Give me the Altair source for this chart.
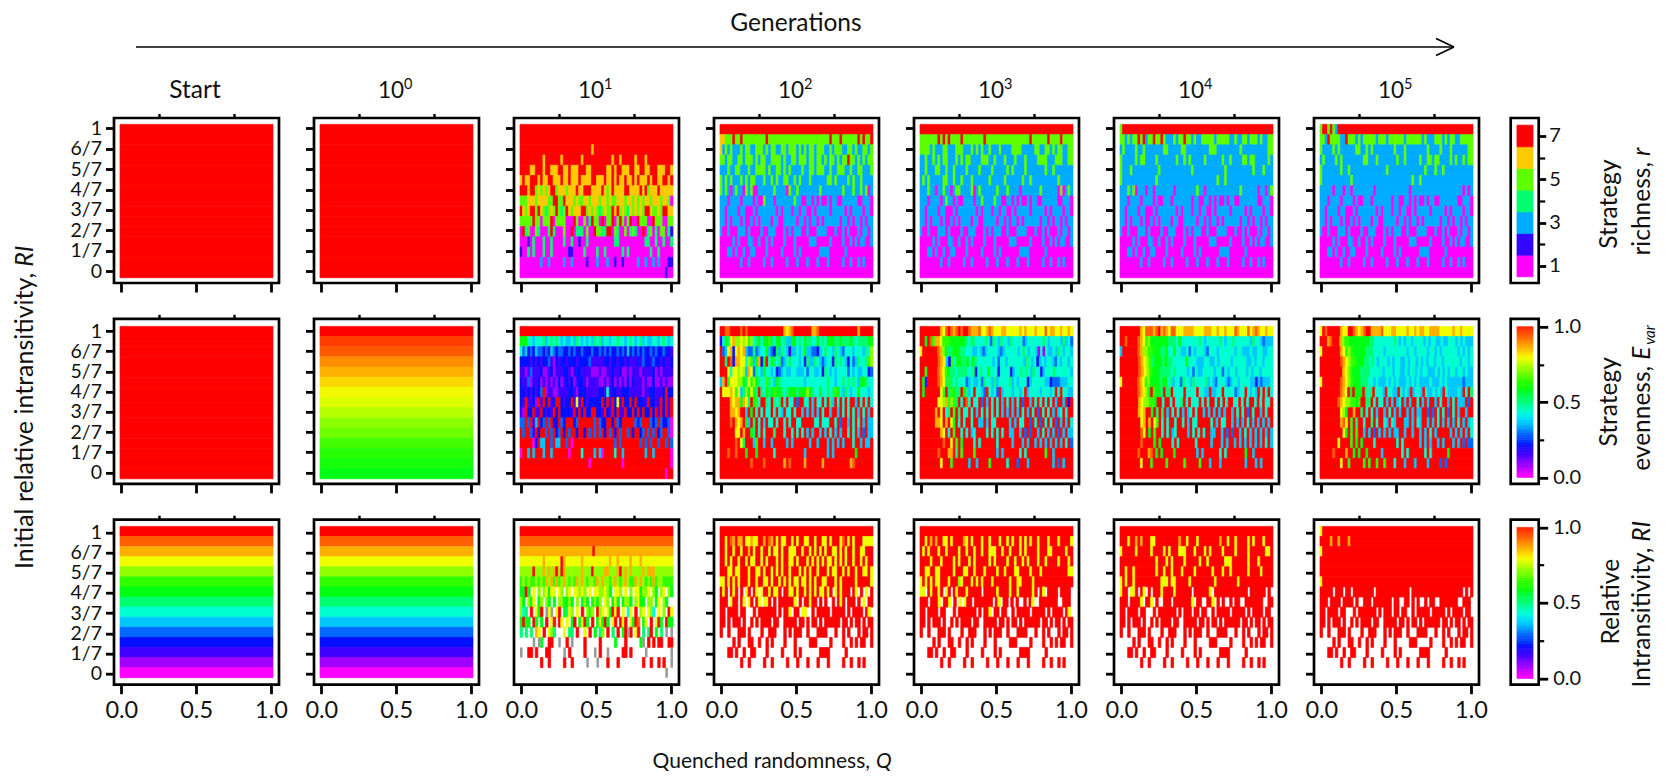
import altair as alt
import pandas as pd

FONT = "Lato"
LEVEL_CHARS = "0123456789abcde"
LEVEL_COLORS = ["#ff00ff", "#a000ff", "#4000ff", "#0010ff", "#0068ff", "#00c8ff", "#00ffd0", "#00ff70",
                "#00ff10", "#30ff00", "#90ff00", "#f0ff00", "#ffaf00", "#ff5f00", "#ff0000"]
GENERATIONS = ["Start", "0", "1", "2", "3", "4", "5"]
RI_TICKS = ["0", "1/7", "2/7", "3/7", "4/7", "5/7", "6/7", "1"]

# stripe masks of the low rows, shared by the late generations (x = intransitive cell)
M8 = "xxxxx.xxx.xx.xxxxxxxx.xxxxxxxxxxxxx.xxxxxxxxxxxxxxxxxxxx.x.x"
M7 = "xxx.xxxx.xxxx.x..xxx.xxxxxxx.xx..xx.x.x..x.xx..xxxxxxx..xxx."
M6 = "xx.xxxx.xx...x.xxxxxxx.x.xxx.xx.xx..x.xxxxx.xxxxx.x.xxxx.xx."
M5 = "xx.x.xxx.x..x.x.xxxx.xx..xxxxx.xx.x.xx.x.xxxxxx.xx.x.xx.x.xx"
M4 = "x..x...xxx.x....x..xxx...x.x.xxx..x...xxxx...x..x.x...x.xx.x"
M3 = ".....x.x...xx..x..x.x....x...x.....xxx.....x....x..x.x.xx..x"
M2 = "...xx.x..x..xx....x.....x....x.x.......xxxx......x.........."
M1 = "........x..x.....x..x.....x...x...x...x...x.....x..x..x.x..."


def rich(m):
    return m.replace("x", "3").replace(".", "1")


def red(m):
    return m.replace("x", "e")


LOW_R = [rich(M8), rich(M7), rich(M6), rich(M5), rich(M4), rich(M3), rich(M2), rich(M1), "1"]
LOW_RI = [red(M8), red(M7), red(M6), red(M5), red(M4), red(M3), red(M2), red(M1), "."]

R_START = ["7"] * 15
R_G0 = ["7"] * 15
R_G1 = [
    "7", "7",
    "77777777777777777777777777777677777777777777777777777777777777",
    "777777777677777767777777677777777777677677777677767777777777",
    "777766777677666776676667776677777766767766677667766777666776",
    "676677767667766676676667666677666766767667667676667677667767",
    "777677565656775666566676677766667656766667766667675666766666",
    "555666566665577557666565566566656656556665665656566566656651",
    "765677576545657545765666775656545655767565465656577655657766",
    "555557551555715555111751151475517155715751571175551175551155",
    "174511541114741115117144415117554477154115145411714514155142",
    "111214111411411114114112114111111111144111111111144114114114",
    "211414111411411111122111141111411411111141411111111411411111",
    "111111113113111113113111112111311131121121111131131131311122",
    "111111111111111111111111111111111111111111111111111111111211",
]
R_G2 = [
    "7",
    "665557557555555555755555555555555555555555575557555555757557",
    "635353335355335553535533553555353535535553353555335535335535",
    "553553355355535355335555353355355535535535355353557553535355",
    "333533553335335555353355353533335335535553353355533533553335",
    "535353335353553335335353355335353335333333553533335353353333",
    "535313533153511333333533331533533333333533333333533353353513",
    "333133331333313115333133333335331133131311313311333333113331",
] + LOW_R[2:]
R_G3 = [
    "7",
    "555555575757555575555555575555555555555555575555557555575555",
    "555535333553335553335353533533353333555533333553355353553355",
    "335335353553335353553333555335333533353335333355553335553355",
    "335333553353353333533335333353333353533335333333353353333333",
    "353533333553353353335333333533333533333353353333333333533333",
    "333533133533135533335135333333533353333133333335333333151353",
    "333133331353313113333133533335331133131311313311333333113331",
] + LOW_R[2:]
R_G4 = [
    "577777777777777777777777777777777777777777777777777777777777",
    "553535575735575575333535575535335555535555533533553555353355",
    "353333533533333335533333553333333335553333333335333333333355",
    "533333535533335333333353353533333533333353353333553553333353",
    "533353333333333533333333333353333333333335333333333353335333",
    "533333333333335333333333333333333333335335333333333333333333",
    "333535133313313333333133333333533133333333333335333333133135",
] + LOW_R[1:]
R_G5 = [
    "577575377777777777777777777777777777777777777777777777777777",
    "553755553375553535555535553555555355555535333555353553355555",
    "533335353333335533535333333335333533333333533335333533333355",
    "353333535333333335533353333333533533333533553553333535335355",
    "533333335335333333333333335333333333333335333533533333333333",
    "533333333333533333333333333333333333533533333333333333333333",
] + LOW_R

E_START = ["e"] * 15
E_G0 = [1.0, 0.97, 0.935, 0.89, 0.855, 0.82, 0.79, 0.77, 0.74, 0.71, 0.68, 0.65, 0.62, 0.59, 0.57]
E_G1 = [
    "e",
    "888665666756767656556576565657675665667665676567565566567656",
    "645343544343543443343433433343343434334343534343433434334332",
    "333323232334213233233323333422222332332332322232433243323223",
    "221242223112312223321233222211121122322311212221222231212222",
    "322412231212121312323123321222211212312121313222121131121211",
    "332323234e12211222233213332222233262332233322222122332223e33",
    "32e2231e2e3e23ee3233e2b2e3233333e3e2e3b2e33e3e3332e3322e3e2e",
    "21e33e22e3232e3e33332e3e3e33ee332e32e3e22e33e3e3e33e3e2e3e2e",
    "44e4e25e34e4e33e43eee34eeeeee4e433ee3e43eeeee434eee434e43340",
    "e4ee42e3ee4e4e34e3e4ee3ee3e4e4e4e3e4e3e4ee4e3ee34e4e4e34ee40",
    "eeeee03e55ee4e55ee4e0eeeeeeeeeeeeeeee4e4eeeeeee4e4e4ee4ee4e4",
    "0ee5e5eee5ee5eeeeee0eeee6eeee5e50eeee6ee5eeeeeeee5ee5eeeeee0",
    "eeeeeeeeeeeeeeeeeeeeeeeeeee0eeeeeeeeeeee0eeeeeeeeeeeeeeeeee0",
    "eeeeeeeeeeeeeeeeeeeeeeeeeeeeeeeeeeeeeeeeeeeeeeeeeeeeeeeee0ee",
]
E_G2 = [
    "eeddeeeededeeeeeeeeeeeeeecbcdeeeeeeeccdeeeeeeeeeeeeeeeceeeee",
    "2687bcaabab9a67868897688675588676877668676888778777876777788",
    "e45bc3bcbc5447456685438576525565685544356766576546665666576a",
    "ee7ed3ccbb6a958c38e6876745676665637557654566376765364576679a",
    "eeeb6bbaba5cb47658665634565566555646655637656566664656556634",
    "5ce9bbbaa87b9a8766976587666666666566666666766566767676588766",
    "ebbbcb9b57a8b87e768789887678887888a8766866767986576566866656",
    "eeeecbcc8cb7e896ee76e767e6e66e4ee66e5e66e6e75e6e6e6ee5e6e6e6",
    "eeeeccbcee5e8e6e6e66e6e65e66e6ee5e5e5e5e6ee5ee5e6e6e6e5e6e5e",
    "eeeedecbce85e7e6e5e66e6ee6e6ee66eeeee66e666ee6e4ee5e6e6e5e55",
    "eeeeeebbecee87e6e6eee7eee6ee6e6e6e5e5ee5e5e6e5e5ee6e6e5e4e55",
    "eeeeeedeb7eee59ee5ee5eeeee5e5eeeeee5ee5eee5e5e5e5eee6ee5e55e",
    "eeedeedeee8eee8eeeeee6eeeeeeeeeee5eeeeeeee5e5eeeeeeee8eeeeee",
    "eeeeeeeeeeeedeeeedeeeeeeecedeeeeeceeeeeeceeeeeeeeeecdeeeeeee",
    "e",
]
E_G3 = [
    "eeeeeeeecbdedcdedeedcccdbbcdcbbbccbbbbbcbcbbbcbbbdbccbbcbbcb",
    "ee8ed9ccb9998888887677666676476576657666645666666765666657564",
    "beeeeeedca877888776665565456666545666665676566516165565765665",
    "eeeeeeedcb5396887786876666665646656666665765635656654656656",
    "ee9eeeedcb987767777667367668666366663566767657663566676666665",
    "e82eeeedcb79767666456556476657566667565666356666655344455566",
    "e8eeeeeeb9e79877e8756e6654e6564e566656656e56666566656e6e6655",
    "eeeeeeebbac9a97e6ed6e66e4e5e6e6e5e6e5e6e4ee5e6e6e6e6e5ee5e3e",
    "eeeeeecebe67e9e7e66e6e5e6e6e6e6e5e5e5e5e6e5e6e4e6e6e5e56e6ee",
    "eeeeeeccbeceb8e6e6ee6ee55e5e66eeeee5e5e66ee4e6e4e6e6e4e5e5e6",
    "eeeeeeeecbe6e9ee6e6e56eeee6e6e6e6ee55ee5e4e4ee5e6e5e5e4e5e55",
    "eeeeeeeeedeebe9e8eeee6e6eeeeee6eeeee5eee5e5ee5e5e5e5e5e5e6e4",
    "eeeeeeedeeecce7e9eeee9eeeeeeee5e5eeeeee6e6eeeeeee9ee5eeeeeee",
    "eeeeeeeebeee9eeeeee5ee5eeee9eeeeee6eee4eee5eeeeeeeee5e4e5eee",
    "e",
]
E_G4 = [
    "eeeeeeeecbdddcdecdcbddbbbccccbbbbcccbbcbbcbbbdcbbbdbcdcbbcbb",
    "eedeeeedcb9a888888877768666666676566666765667666666576654555",
    "5eeeeeedcaa9988877866866556465666546665666666566555655665566",
    "eeeeeeedcba97888787766666866655566556566665666665565665666",
    "eeeeeeedcba9888777767666656465566665664656656665656656666",
    "beeeeeedcb9a8888788675664766576666756546665456656666553545556",
    "eeeeeeedcba8e9887e77e6666e6666e6655e5566e66664566e6565e6e6e6",
    "eeeeeeecbaa998ee6ee6e667e6e666e6e6ee6e6e6ee66e6e6ee6e6e66e",
    "eeeeeeecbcee8e7e7e5e6e6e5e56e6ee5e5e5e5e5ee5e6e6e4e6ee5e6ee",
    "eeeeeeeebceceb9e6e6ee6ee6e5e66eeeee6e5e66ee5e5e5e6e5e5e5e5e",
    "eeeeeeeedbe8e9ee6e6e56eeee5e6e6e6ee55ee5e4e4ee5e6e5e5e5e5e5",
    "eeeeeeeedeeee8e8eeee6e6eeeeee6eeeee5eee5e5ee5e5e5e5e5e5e6e5",
    "eeeeeeedeeecde8e8eeee8eeeeeeee5e5eeeeee6e6eeeeeee8ee5eeeeeee",
    "eeeeeeeebeee9eeeee9eeeeee9eeeee9eee5eee5eeeeeeeee5eee5e5eeee",
    "e",
]
E_G5 = [
    "bedeeeeecbbeedcbcdeeccccdbbbccbbbbcbbcbccbbccccbbbbbcbbcbbbb",
    "eeecdeeeca9988888888776666666676565665666656566556556665656555",
    "beeeeeeecb9a988888777666656666666656656666566565666666565656",
    "eeeeeeeedcba99888776765666565665565665656566566566666656656",
    "eeeeeeeeecba9888777766666566656655656656566555656565665665655",
    "beeeeeeedcba988877766565556565655565656555565556565555554555",
    "eeeeeeeedcbe8e888e767e6665e6655e6565e5665e6556565e6555565e6e7",
    "eeeeeeedcbaa9989ee77e6e66e5e5e56e5e5ee6e5e5ee5e6ee5e6e555e4e",
    "eeeeeeeeba8eecee7e6e6e5ee5e6e5e5ee5e5e55ee4e4e6e6e4e6e5ee5ee",
    "eeeeeeeecdbe9e7ee6ee7e6ee65e65eee55e5e65ee5e5e6e5e5e5e6e5e56",
    "eeeeeeeeeb8e9e9ee5e5e4e5e5e5e55ee5ee5ee5e5e6e5eeeee5e5e5e5e6",
    "eeeeeeebeeee9e8e8eeee6eeeeeeee6e6eeeeee5e5e5ee5e5eee5e5e4e44",
    "eeeeedeeeecee8e8ee8eeeee5eeeeeee6e6eeeeee6e6eeeeee8eeeeeeeee",
    "eeeeeeeebee9eeeee9e9ee9ee9eee6eee5eee5eeee5eeee4e4eeeeeeeeee",
    "e",
]

I_START = list("edcba9876543210")
I_G0 = list("edcba9876543210")
I_G1 = [
    "e", "d",
    "ccccccccccccccccccccccccccccceccccccccccccccccccccccccccccccc",
    "bbbbbbbbbcbbbbbbecbbbbbbcbbbbbbbbbbcbbcbbbbcbbbcbbbbbbbbbbbb",
    "aaaaaeaaacacaceaecaaaaaacaaaeaaaaccaaaceacacaaaacacccaaaaaaa",
    "9a9a99a9a9cac9c9aca9a9caca9aa9cacaa9aca9aca99caca9a9c9aa9999",
    "88e8.b.a.ab8bb.ba.ab.bbaba.b.bbaaba8.bba.b.a.bb8aab.a8.ab.a8",
    "a8.a8b.8a.a8.8.aa88a8.a.8a8.8a8a.ba.8b8.8aa8.ab88.aa.8b.a8..",
    "a67.e.b8e.gbg.be.87ba.b.e.a9a.eab.b8ebe.b.6b.e.ab.ba6.b.a.eb",
    "8e88.e8.8.e.be.eb.b.8e.8be8.e.8b8e8.be.ebe.b8ed.8b.e.be8.e88",
    "7.7.7.cb.e.ba7...b.77.e..b.e.8.7a.e.7.e.8ege.be.7.7e.8.7.g.g",
    ".....g.g8..ee..g..e.g....e.....e.....8...e.....8g.e.e.ee..ee",
    "g..ee.e...ee.....g.e.....e...g.e..g.....ee.e.....g.........g",
    "........e..e.....e..e.....g...g...e...e.........e..e..e.e..g",
    ".........................................................g..",
]
I_G2 = [
    "e",
    "eebedceccebbcbbeecedcebebbeebebeebbeebeebbebeeebdebebeeebbbb",
    "eebeebeebeecebeebeebebbebeebbbeebeebebebebeebbebebeebeebbeee",
    "eebebeebeebebbeebebeeebebeebbebeeebebebebebbebebebeebeebebee",
    "eeebbebbeeebeebbebeebebebeebeeebebebeebeeebebbeebebeebeebbeb",
    "bbebebebeeebeebeebbebeebebebebbebbebebeebbeeebebeeeeebeeeeeb",
    "ebe.ebe.e.be.eb.beebebbe.eebbebeebebebebbebe.bebeee.eb.e.b.e",
    "eee.bee.eb.be.eb.bbe.e.eeeeeeb.e.eebee.e.e..e.ebe.eee.e.b.ee",
    "ee.eeee.ee...e.eeeeeee.e.eeb.ee.bb..e.eeeee.eeeee.e.eeee.eb.",
] + LOW_RI[3:]
I_G3 = [
    "e",
    "eebececeebbebeeeecbebeeebeebeeebeebebeebebebeebeeebeeebeeeeb",
    "ebebeeebeebeeeebeebeebeebeebbbeebeebeeebebeeeebeeebbeeeeebee",
    "eeeebeeebeeeebebeeebebeeeeebebeeeebeebeebebeeebeebeeeebeeebe",
    "eebbeebbeeeeebeeebbeebeeebeeeebeebeeebbeeeebeeebeeeeeeeeeebb",
    "bebebebbeeebeeeabeeebebebeeebeeeeeebeebbeeeebeeeeeeeeeeeeeee",
    "bb.ebeebe.be.ebeeebeeeee.eeeeebeeeebeebeeeeebe.eb.eeee.eeee.",
    "eee.eeeb.eeb.e.b.bee.eeeeeee.eb.ee.e.e..e.eb..eeeeeee..eee.",
    "ee.eeee.ee...e.eeeeeee.e.eeb.ee.ee..e.eeeee.eeeee.e.eeee.eb.",
] + LOW_RI[3:]
I_G4 = [
    "e",
    "eeebeececeeebbeeeeeeeeeceebeeebeeeeeeeeceebeebeeeebebeeebeee",
    "beeeeebeeeeebeeeebebeeebbbeeebeeebebeeeebeeeebeeeebeeeeeebbe",
    "eeeeeeeeeeeeeebeeebebeeeebeeeeebeebeeeeeebbbeeeeeebeeebeeeee",
    "eebeebeeeeeeeebeebeebeeebeeeebeeeeeebeeebeebeeeeeebeeeebeeee",
    "bebeebeeeeeeeeeebbbebbeeeeebeeeeeeeeebeeeeeeeebeeeeeeeeeeeee",
    "bee.bbe.eb.e.eeebeeeebeeeeee.eeeeeeb.eeeeeeeeeeeee.eeeeee.e.",
    "eee.eeeeb.eeb.e..eee.eeeeeeeb.ee..eeb.e.e..e.ee..eeeeeee..ee",
] + LOW_RI[2:]
I_G5 = [
    "beeeeeeeeeeeeeeeeeeeeeeeeeeeeeeeeeeeeeeeeeeeeeeeeeeeeeeeeeee",
    "eeeeceeceeeceeeeeeeeeeeeeeeeeeeeeeeeeeeeeeeeeeeeeeeeeeeeeeee",
    "beeeeeeeeeeeeeeeeeeeeeeeeeeeeeeeeeeeeeeeeeeeeeeeeeeeeeeeeeee",
    "e", "e",
    "beeeeeeeeeeeeeeeeeeeeeeeeeeeeeeeeeeeeeeeeeeeeeeeeeeeeeeeeeee",
] + LOW_RI

RICHNESS = [R_START, R_G0, R_G1, R_G2, R_G3, R_G4, R_G5]
EVENNESS = [E_START, E_G0, E_G1, E_G2, E_G3, E_G4, E_G5]
INTRANS = [I_START, I_G0, I_G1, I_G2, I_G3, I_G4, I_G5]
GRID = [RICHNESS, EVENNESS, INTRANS]

R_BAR = [1, 2, 3, 4, 5, 6, 7]
BAR_STEPS = list(range(0, 61))

# layout (pixels)
PW, PH = 165, 165
COL_GAP, ROW_GAP = 35, 35.85
BAR_W = 24.7
BAR_SHIFT = -3.3
X_DOM = [-0.0488, 1.0535]
X_IMG = (-0.0087, 1.0134)
Y_DOMS = [[-0.084, 1.0729], [-0.0806, 1.0859], [-0.0779, 1.0899]]
Y_IMGS = [(-0.047, 1.028), (-0.0446, 1.0325), (-0.0283, 1.0425)]
BAR_DOMS = [[0.215, 7.83], [-0.0428, 1.052], [-0.0417, 1.051]]

LEVEL_VALUES = [i / 14 for i in range(15)]
CSCALE = alt.Scale(domain=LEVEL_VALUES, range=LEVEL_COLORS)
XTICK_FS, YTICK_FS, BAR_FS, TEXT_FS = 23.5, 19.5, 20, 24.5
GAP = 6


def cell_value(ch, is_rich):
    return (int(ch) - 1) / 6 if is_rich else LEVEL_CHARS.index(ch) / 14


def cells(rows, y_img, is_rich):
    out, grey = [], []
    dy = (y_img[1] - y_img[0]) / 15
    dx = X_IMG[1] - X_IMG[0]
    for i, row in enumerate(rows):
        top = y_img[1] - i * dy
        bot = top - dy
        if isinstance(row, float):
            out.append(dict(x=X_IMG[0], x2=X_IMG[1], y=bot, y2=top, v=row))
            continue
        n, j = len(row), 0
        while j < n:
            k = j
            while k < n and row[k] == row[j]:
                k += 1
            rec = dict(x=X_IMG[0] + dx * j / n, x2=X_IMG[0] + dx * k / n, y=bot, y2=top)
            if row[j] == "g":
                grey.append(rec)
            elif row[j] != ".":
                rec["v"] = cell_value(row[j], is_rich)
                out.append(rec)
            j = k
    return pd.DataFrame(out), pd.DataFrame(grey)


def label(text, x, y, size=TEXT_FS, align="center", angle=0, style="normal"):
    return alt.Chart(pd.DataFrame({"t": [text]})).mark_text(
        font=FONT, fontSize=size, align=align, baseline="alphabetic", angle=angle, fontStyle=style, color="#111"
    ).encode(text="t:N", x=alt.value(x), y=alt.value(y))


def line(x1, x2, y1, y2):
    return alt.Chart(pd.DataFrame({"a": [0]})).mark_rule(color="black", strokeWidth=1.6).encode(
        x=alt.value(x1), x2=alt.value(x2), y=alt.value(y1), y2=alt.value(y2))


def panel(row, col):
    df, grey = cells(GRID[row][col], Y_IMGS[row], row == 0)
    xs = alt.Scale(domain=X_DOM, nice=False, zero=False)
    ys = alt.Scale(domain=Y_DOMS[row], nice=False, zero=False)
    x_major = alt.Axis(values=[0, 0.5, 1], tickSize=9, tickWidth=2.8, tickColor="black", labels=row == 2,
                       format=".1f", title=None, domain=False, grid=False, labelFont=FONT, labelFontSize=XTICK_FS,
                       labelColor="#111", labelPadding=5, labelFlush=False)
    x_minor = alt.Axis(values=[0.25, 0.75], tickSize=4.5, tickWidth=2.4, tickColor="black", labels=False,
                       title=None, domain=False, grid=False)
    expr = "[" + ",".join(f"'{t}'" for t in RI_TICKS) + "][round(datum.value*7)]"
    y_axis = alt.Axis(values=[i / 7 for i in range(8)], tickSize=8.5, tickWidth=2.8, tickColor="black",
                      labels=col == 0, labelExpr=expr, title=None, domain=False, grid=False, labelFont=FONT,
                      labelFontSize=YTICK_FS, labelColor="#111", labelPadding=4, labelOverlap=False, labelBound=False)
    base = alt.Chart(df).mark_rect(strokeWidth=0.7).encode(
        x=alt.X("x:Q", scale=xs, axis=x_major), x2="x2:Q",
        y=alt.Y("y:Q", scale=ys, axis=y_axis), y2="y2:Q",
        fill=alt.Fill("v:Q", scale=CSCALE, legend=None),
        stroke=alt.Stroke("v:Q", scale=CSCALE, legend=None))
    minor = alt.Chart(pd.DataFrame({"m": [0.25, 0.75]})).mark_point(opacity=0).encode(
        x=alt.X("m:Q", scale=xs, axis=x_minor), y=alt.value(0))
    layers = [base, minor]
    if len(grey):
        layers.append(alt.Chart(grey).mark_rect(color="#9a9a9a").encode(
            x=alt.X("x:Q", scale=xs, axis=None), x2="x2:Q",
            y=alt.Y("y:Q", scale=ys, axis=None), y2="y2:Q"))
    if row == 0:
        g = GENERATIONS[col]
        if g == "Start":
            layers.append(label("Start", 81, -20))
        else:
            layers.append(label("10", 90, -20, size=22.5, align="right"))
            layers.append(label(g, 90, -29, size=14.5, align="left"))
    if row == 0 and col == 0:
        layers += [label("Generations", 682, -87), line(22, 1340, -71, -71),
                   line(1322, 1340, -79.5, -71), line(1322, 1340, -62.5, -71)]
    if row == 1 and col == 0:
        layers += [label("Initial relative intransitivity,", -81, -46, size=25, align="right", angle=270),
                   label("RI", -81, -46 - GAP, size=25, align="left", angle=270, style="italic")]
    if row == 2 and col == 0:
        layers += [label("Quenched randomness,", 756, 248, size=21, align="right"),
                   label("Q", 756 + GAP, 248, size=21, align="left", style="italic")]
    return alt.layer(*layers).resolve_axis(x="independent").properties(width=PW, height=PH)


def colorbar(row):
    ys = alt.Scale(domain=BAR_DOMS[row], nice=False, zero=False)
    xs = alt.Scale(domain=[0, 1], nice=False, zero=False)
    if row == 0:
        df = pd.DataFrame({"y": [r - 0.5 for r in R_BAR], "y2": [r + 0.5 for r in R_BAR],
                           "v": [(r - 1) / 6 for r in R_BAR]})
        major, minor_v, fmt, msize = [1, 3, 5, 7], [2, 4, 6], "d", 7
    else:
        df = pd.DataFrame({"y": [s / 60 for s in BAR_STEPS[:-1]], "y2": [s / 60 for s in BAR_STEPS[1:]],
                           "v": [s / 60 for s in BAR_STEPS[:-1]]})
        major, minor_v, fmt, msize = [0, 0.5, 1], [0.25, 0.75], ".1f", 9
    df["x"], df["x2"] = 0.12, 0.77
    axis = alt.Axis(orient="right", values=major, tickSize=msize, tickWidth=2.8, tickColor="black", format=fmt,
                    title=None, domain=False, grid=False, labelFont=FONT, labelFontSize=BAR_FS, labelColor="#111",
                    labelPadding=5 if row else 3, labelOverlap=False, labelBound=False)
    ax2 = alt.Axis(orient="right", values=minor_v, tickSize=msize - 4 if row else msize - 1, tickWidth=2.2, tickColor="black",
                   labels=False, title=None, domain=False, grid=False)
    frame = alt.Chart(pd.DataFrame({"a": [0]})).mark_rect(fill="white", stroke="black", strokeWidth=2.7).encode(
        x=alt.value(BAR_SHIFT), x2=alt.value(BAR_W), y=alt.value(0), y2=alt.value(PH))
    base = alt.Chart(df).mark_rect(strokeWidth=0.7).encode(
        x=alt.X("x:Q", scale=xs, axis=None), x2="x2:Q",
        y=alt.Y("y:Q", scale=ys, axis=axis), y2="y2:Q",
        fill=alt.Fill("v:Q", scale=CSCALE, legend=None),
        stroke=alt.Stroke("v:Q", scale=CSCALE, legend=None))
    minor = alt.Chart(pd.DataFrame({"m": minor_v})).mark_point(opacity=0).encode(
        y=alt.Y("m:Q", scale=ys, axis=ax2), x=alt.value(0))
    layers = [frame, base, minor]
    dx = -BAR_SHIFT
    if row == 0:
        layers += [label("Strategy", 106 - dx, 86, angle=270),
                   label("richness,", 139 - dx, 44, align="right", angle=270),
                   label("r", 139 - dx, 44 - GAP, align="left", angle=270, style="italic")]
    elif row == 1:
        layers += [label("Strategy", 106 - dx, 83, angle=270),
                   label("evenness,", 139 - dx, 47, align="right", angle=270),
                   label("E", 139 - dx, 47 - GAP, align="left", angle=270, style="italic"),
                   label("var", 144 - dx, 26, size=15, align="left", angle=270, style="italic")]
    else:
        layers += [label("Relative", 108 - dx, 82, angle=270),
                   label("Intransitivity,", 139 - dx, 28, align="right", angle=270),
                   label("RI", 139 - dx, 28 - GAP, align="left", angle=270, style="italic")]
    return alt.layer(*layers, view=alt.ViewConfig(stroke=None)).resolve_axis(y="independent").properties(
        width=BAR_W, height=PH)


views = []
for r in range(3):
    views += [panel(r, c) for c in range(7)]
    views.append(colorbar(r))

chart = alt.concat(*views, columns=8, spacing=alt.RowColnumber(row=ROW_GAP, column=COL_GAP), bounds="flush",
                   align="each").properties(
    padding={"left": 3, "top": 1, "right": 0, "bottom": 0}, background="white"
).configure_view(stroke="black", strokeWidth=2.7)

chart.save("out.html", embed_options={"renderer": "svg", "actions": False})
